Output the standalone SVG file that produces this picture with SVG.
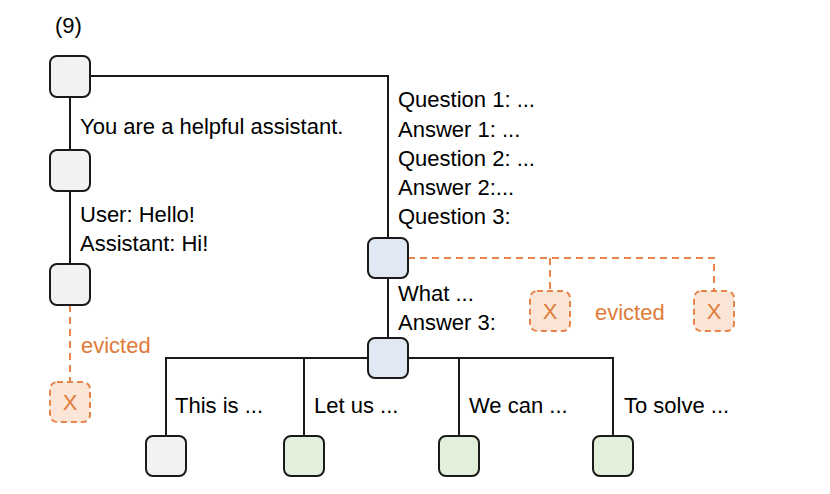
<svg xmlns="http://www.w3.org/2000/svg" width="830" height="494" viewBox="0 0 830 494">
<style>
text{font-family:"Liberation Sans",Arial,sans-serif;font-size:22px;fill:#000}
.ev{fill:#e07b39}
.n rect{stroke:#1a1a1a;stroke-width:2}
.g{fill:#f2f2f2}.b{fill:#dfe8f3}.gr{fill:#e2efda}
.x rect{fill:#fbe5d6;stroke:#e8844a;stroke-width:2;stroke-dasharray:6 4}
.x text{fill:#e07b39;text-anchor:middle}
.c path{fill:none;stroke:#1a1a1a;stroke-width:2}
.c path.d{stroke:#e8844a;stroke-dasharray:7 5}
</style>
<rect width="830" height="494" fill="#fff"/>
<text x="55" y="33">(9)</text>
<g class="c" id="connectors">
<path d="M70 97V150M70 191V264M90 76H388V238M388 278V338M166 436V358H613V436M304 358V436M459 358V436"/>
<path class="d" d="M70 305V382M408 258H714V291M550 258V291"/>
</g>
<g id="n1" class="n"><rect class="g" x="50" y="56" width="40" height="41" rx="7"/></g>
<g id="n2" class="n"><rect class="g" x="50" y="150" width="40" height="41" rx="7"/></g>
<g id="n3" class="n"><rect class="g" x="50" y="264" width="40" height="41" rx="7"/></g>
<g id="x1" class="x"><rect x="50" y="382" width="40" height="40" rx="7"/><text x="70" y="410">X</text></g>
<g id="n5" class="n"><rect class="b" x="368" y="238" width="40" height="40" rx="7"/></g>
<g id="x2" class="x"><rect x="530" y="291" width="40" height="40" rx="7"/><text x="550" y="319">X</text></g>
<g id="x3" class="x"><rect x="694" y="291" width="40" height="40" rx="7"/><text x="714" y="319">X</text></g>
<g id="n6" class="n"><rect class="b" x="368" y="338" width="40" height="40" rx="7"/></g>
<g id="l1" class="n"><rect class="g" x="146" y="436" width="40" height="40" rx="7"/></g>
<g id="l2" class="n"><rect class="gr" x="284" y="436" width="40" height="40" rx="7"/></g>
<g id="l3" class="n"><rect class="gr" x="439" y="436" width="40" height="40" rx="7"/></g>
<g id="l4" class="n"><rect class="gr" x="593" y="436" width="40" height="40" rx="7"/></g>
<g id="labels">
<text x="80" y="134">You are a helpful assistant.</text>
<text x="80" y="222">User: Hello!</text>
<text x="80" y="251">Assistant: Hi!</text>
<text class="ev" x="81" y="353">evicted</text>
<text x="398" y="107">Question 1: ...</text>
<text x="398" y="137">Answer 1: ...</text>
<text x="398" y="166">Question 2: ...</text>
<text x="398" y="195">Answer 2:...</text>
<text x="398" y="224">Question 3:</text>
<text x="398" y="301">What ...</text>
<text x="398" y="330">Answer 3:</text>
<text class="ev" x="595" y="320">evicted</text>
<text x="175" y="413">This is ...</text>
<text x="314" y="413">Let us ...</text>
<text x="469" y="413">We can ...</text>
<text x="624" y="413">To solve ...</text>
</g>
</svg>
